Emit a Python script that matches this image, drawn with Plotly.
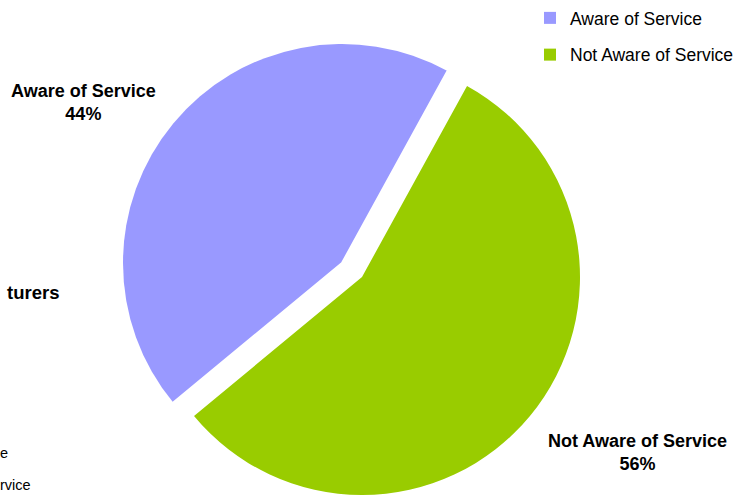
import plotly.graph_objects as go

labels = ["Aware of Service", "Not Aware of Service"]
values = [44, 56]
colors = ["#9999FF", "#99CC00"]
fragments = ["turers", "e", "rvice"]

W, H = 742, 495
FONT = "Arial, Liberation Sans, sans-serif"
ROT = 230.4


def dom(cx, cy, r):
    return dict(x=[(cx - r) / W, (cx + r) / W],
                y=[1 - (cy + r) / H, 1 - (cy - r) / H])


fig = go.Figure()
# legend-only carriers (tiny, hidden under same-coloured areas) so each legend row is its own group
tiny_spots = [(250, 200), (470, 360)]
for lab, v, c, (sx, sy) in zip(labels, values, colors, tiny_spots):
    fig.add_trace(go.Pie(labels=[lab], values=[v], sort=False, marker=dict(colors=[c]),
                         textinfo="none", hoverinfo="skip", legendgroup=lab,
                         domain=dom(sx, sy, 0.3), showlegend=True))
# base pie
fig.add_trace(go.Pie(labels=labels, values=values, sort=False, direction="clockwise",
                     rotation=ROT, marker=dict(colors=colors, line=dict(width=0)),
                     textinfo="none", hoverinfo="label+percent",
                     domain=dom(342, 263, 219), showlegend=False))
# cover for the exploded slice's original position
fig.add_trace(go.Pie(labels=labels, values=values, sort=False, direction="clockwise",
                     rotation=ROT,
                     marker=dict(colors=["rgba(0,0,0,0)", "white"],
                                 line=dict(color=["rgba(0,0,0,0)", "white"], width=[0, 2])),
                     textinfo="none", hoverinfo="skip",
                     domain=dom(342, 263, 219), showlegend=False))
# exploded slice
fig.add_trace(go.Pie(labels=labels, values=values, sort=False, direction="clockwise",
                     rotation=ROT,
                     marker=dict(colors=["rgba(0,0,0,0)", colors[1]], line=dict(width=0)),
                     textinfo="none", hoverinfo="skip",
                     domain=dom(362, 277, 218), showlegend=False))

ann = []
label_pos = [(83.5, 102), (637, 452)]
for lab, v, (x, y) in zip(labels, values, label_pos):
    ann.append(dict(text=f"<b>{lab}<br>{v}%</b>", x=x / W, y=1 - y / H,
                    xref="paper", yref="paper", showarrow=False,
                    xanchor="center", yanchor="middle",
                    font=dict(family=FONT, size=18, color="black")))

frag_pos = [(60.5, 292.7, 18.5, True, "right"), (-2.5, 453.4, 14.5, False, "left"),
            (-2.5, 485, 14.5, False, "left")]
for t, (x, y, s, b, anc) in zip(fragments, frag_pos):
    ann.append(dict(text=f"<b>{t}</b>" if b else t, x=x / W, y=1 - y / H,
                    xref="paper", yref="paper", showarrow=False,
                    xanchor=anc, yanchor="middle",
                    font=dict(family=FONT, size=s, color="black")))

fig.update_layout(
    width=W, height=H,
    margin=dict(l=0, r=0, t=0, b=0, pad=0, autoexpand=False),
    paper_bgcolor="white", plot_bgcolor="white",
    annotations=ann,
    legend=dict(x=530 / W, y=1, xanchor="left", yanchor="top",
                traceorder="grouped", tracegroupgap=11,
                font=dict(family=FONT, size=17.5, color="black"),
                bgcolor="rgba(0,0,0,0)", borderwidth=0),
)

fig.write_html("out.html")
